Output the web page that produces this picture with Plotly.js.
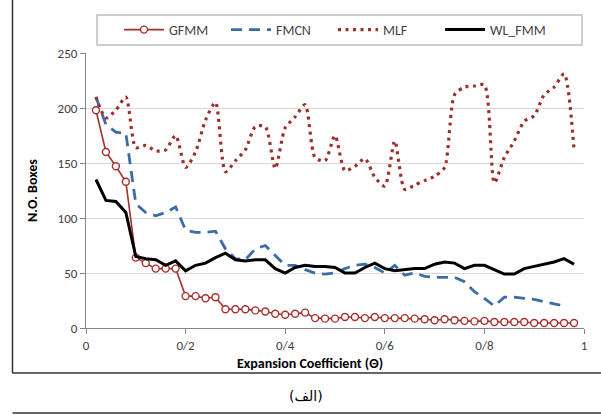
<!DOCTYPE html>
<html>
<head>
<meta charset="utf-8">
<script src="https://cdn.plot.ly/plotly-3.0.1.min.js"></script>
<style>
  html, body { margin: 0; padding: 0; background: #ffffff; }
  #chart { width: 601px; height: 414px; }
</style>
</head>
<body>
<div id="chart"></div>
<script>
// Expansion coefficient values (x)
const theta = [0.02,0.04,0.06,0.08,0.10,0.12,0.14,0.16,0.18,0.20,
               0.22,0.24,0.26,0.28,0.30,0.32,0.34,0.36,0.38,0.40,
               0.42,0.44,0.46,0.48,0.50,0.52,0.54,0.56,0.58,0.60,
               0.62,0.64,0.66,0.68,0.70,0.72,0.74,0.76,0.78,0.80,
               0.82,0.84,0.86,0.88,0.90,0.92,0.94,0.96,0.98];

const gfmm = [198,160,147,133,64,59,54,54,54,29,
              29,27,28,17,17,17,16,15,13,12,
              13,14,9,8.5,8.5,10,10,9,10,9,
              9,9,8.5,8,7,8,7,6.5,6,6.5,
              5.5,5.5,5.5,5.5,4.5,4.5,4.5,4.5,4.5];

const fmcnTheta = [0.02,0.04,0.06,0.08,0.10,0.12,0.14,0.16,0.18,0.20,
                   0.22,0.24,0.26,0.28,0.30,0.32,0.34,0.36,0.38,0.40,
                   0.42,0.44,0.46,0.48,0.50,0.52,0.54,0.56,0.58,0.60,
                   0.62,0.64,0.66,0.68,0.70,0.72,0.74,0.76,0.78,0.80,
                   0.82,0.84,0.86,0.88,0.90,0.92,0.94,0.96];
const fmcn = [210,185,178,177,113,105,102,105,110,89,
              87,87,88,72,63,62,72,75,66,57,
              57,53,50,49,50,54,57,58,55,50,
              57,48,50,47,46,46,46,42,33,27,
              20,28,28,27,26,24,22,20];

const mlf = [210,191,198,210,164,166,161,162,175,146,
             160,189,205,142,152,162,183,183,145,182,
             192,203,155,152,175,143,147,154,137,129,
             170,126,130,134,138,146,212,219,220,221,
             132,155,170,188,193,212,219,231,162];

const wlfmm = [135,116,115,105,65,63,62,57,61,52,
               57,59,64,68,62,61,62,62,54,50,
               55,57,56,56,55,50,50,55,59,54,
               52,53,54,54,58,60,59,54,57,57,
               53,49,49,54,56,58,60,63,58];

const seriesNames = ['GFMM', 'FMCN', 'MLF', 'WL_FMM'];
const xTickVals = [0, 0.2, 0.4, 0.6, 0.8, 1];
const xTickText = ['0', '0/2', '0/4', '0/6', '0/8', '1'];
const yTickVals = [0, 50, 100, 150, 200, 250];

const FONT = 'Carlito, Lato, "Liberation Sans", sans-serif';

const traces = [
  {
    x: theta, y: gfmm, name: seriesNames[0], type: 'scatter', mode: 'lines+markers',
    line: { color: '#A5302C', width: 1.6 },
    marker: { symbol: 'circle', size: 7, color: '#ffffff', line: { color: '#A5302C', width: 1.4 } }
  },
  {
    x: fmcnTheta, y: fmcn, name: seriesNames[1], type: 'scatter', mode: 'lines',
    line: { color: '#3B6CA6', width: 2.8, dash: '11px,7px' }
  },
  {
    x: theta, y: mlf, name: seriesNames[2], type: 'scatter', mode: 'lines',
    line: { color: '#9E2E2A', width: 3.2, dash: '3px,4.5px', shape: 'spline', smoothing: 0.7 }
  },
  {
    x: theta, y: wlfmm, name: seriesNames[3], type: 'scatter', mode: 'lines',
    line: { color: '#000000', width: 3 }
  }
];

const px = v => (v - 86) / 498;
const py = v => (328 - v) / 275;

const layout = {
  width: 601, height: 414,
  margin: { l: 86, r: 17, t: 53, b: 86 },
  paper_bgcolor: '#ffffff', plot_bgcolor: '#ffffff',
  font: { family: FONT, size: 13, color: '#404040' },
  showlegend: true,
  legend: {
    orientation: 'h', x: px(119), xanchor: 'left', y: py(30), yanchor: 'middle',
    bgcolor: 'rgba(0,0,0,0)', borderwidth: 0,
    font: { family: FONT, size: 14, color: '#404040' },
    entrywidth: 52, entrywidthmode: 'pixels', itemwidth: 40
  },
  xaxis: {
    range: [0, 1], tickvals: xTickVals, ticktext: xTickText,
    showgrid: false, zeroline: false,
    showline: true, linecolor: '#868686', linewidth: 1,
    ticks: 'outside', ticklen: 5, tickcolor: '#868686',
    tickfont: { family: FONT, size: 13, color: '#404040' }
  },
  yaxis: {
    range: [0, 250], tickvals: yTickVals,
    showgrid: true, gridcolor: '#d9d9d9', gridwidth: 1, zeroline: false,
    showline: true, linecolor: '#868686', linewidth: 1,
    ticks: 'outside', ticklen: 5, tickcolor: '#868686',
    tickfont: { family: FONT, size: 13, color: '#404040' },
    title: { text: '<b>N.O. Boxes</b>', font: { family: FONT, size: 14, color: '#000000' }, standoff: 16 }
  },
  annotations: [
    { text: '<b>Expansion Coefficient (Θ)</b>', xref: 'paper', yref: 'paper',
      x: px(310), y: py(363), xanchor: 'center', yanchor: 'middle', showarrow: false,
      font: { family: FONT, size: 14, color: '#000000' } },
    { text: '(الف)', xref: 'paper', yref: 'paper',
      x: px(306), y: py(396), xanchor: 'center', yanchor: 'middle', showarrow: false,
      font: { family: '"DejaVu Sans", sans-serif', size: 14, color: '#000000' } }
  ],
  shapes: [
    { type: 'rect', xref: 'paper', yref: 'paper', x0: px(97), x1: px(582), y0: py(15), y1: py(45),
      line: { color: '#bfbfbf', width: 1.5 }, fillcolor: 'rgba(0,0,0,0)', layer: 'below' },
    { type: 'line', xref: 'paper', yref: 'paper', x0: px(12.5), x1: px(12.5), y0: py(0), y1: py(373),
      line: { color: '#333333', width: 1.5 } },
    { type: 'line', xref: 'paper', yref: 'paper', x0: px(12.5), x1: px(601), y0: py(373), y1: py(373),
      line: { color: '#333333', width: 1.5 } },
    { type: 'line', xref: 'paper', yref: 'paper', x0: px(12.5), x1: px(601), y0: py(413), y1: py(413),
      line: { color: '#333333', width: 1.5 } }
  ]
};

Plotly.newPlot('chart', traces, layout, { displayModeBar: false, staticPlot: true });
</script>
</body>
</html>
